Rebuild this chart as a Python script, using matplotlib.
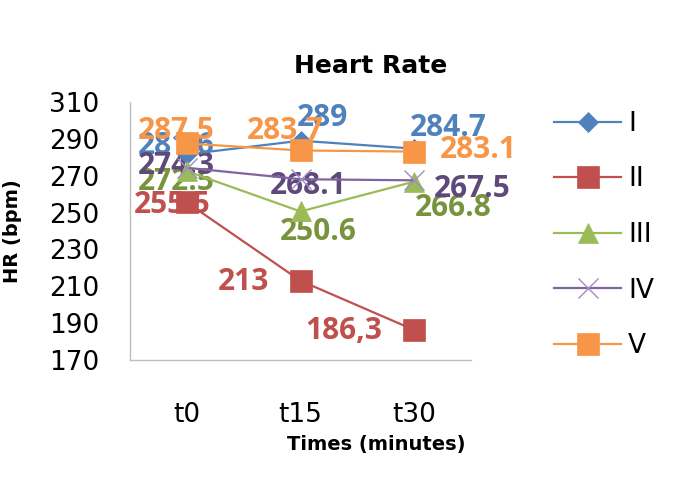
import matplotlib
matplotlib.use("Agg")
import matplotlib.pyplot as plt

# data
times = ["t0", "t15", "t30"]
groups = ["I", "II", "III", "IV", "V"]
hr_I = [281.6, 289, 284.7]
hr_II = [255.5, 213, 186.3]
hr_III = [272.5, 250.6, 266.8]
hr_IV = [274.3, 268.1, 267.5]
hr_V = [287.5, 283.7, 283.1]
# printed labels (the original shows one value with a decimal comma)
labels_I = ["281.6", "289", "284.7"]
labels_II = ["255.5", "213", "186,3"]
labels_III = ["272.5", "250.6", "266.8"]
labels_IV = ["274.3", "268.1", "267.5"]
labels_V = ["287.5", "283.7", "283.1"]
y_ticks = [170, 190, 210, 230, 250, 270, 290, 310]

# style per series: line colour, marker, marker size, marker colour, label colour
styles = [
    dict(c="#4f81bd", m="D", ms=10, mc="#4f81bd", lc="#4f81bd"),
    dict(c="#c0504d", m="s", ms=16, mc="#c0504d", lc="#c0504d"),
    dict(c="#9bbb59", m="^", ms=15, mc="#9bbb59", lc="#77933c"),
    dict(c="#8064a2", m="x", ms=15, mc="#9f8cc0", lc="#5f497a"),
    dict(c="#f79646", m="s", ms=16, mc="#f79646", lc="#f79646"),
]
# label offsets in pixels from each point
offsets = [
    [(-11, 8), (22, 23), (34, 21)],
    [(-15, -3), (-57, -1), (-70, -1)],
    [(-11, -11), (18, -21), (39, -26)],
    [(-11, 2), (8, -7), (58, -9)],
    [(-11, 12), (-15, 19), (64, 2)],
]

fig = plt.figure(figsize=(6.88, 4.78), dpi=100)
ax = fig.add_axes([130 / 688, 1 - 360 / 478, 341 / 688, 258 / 478])

x = list(range(len(times)))
all_hr = [hr_I, hr_II, hr_III, hr_IV, hr_V]
all_labels = [labels_I, labels_II, labels_III, labels_IV, labels_V]

for i, (name, vals, texts) in enumerate(zip(groups, all_hr, all_labels)):
    st = styles[i]
    ax.plot(x, vals, color=st["c"], lw=1.6, marker=st["m"], ms=st["ms"],
            mfc=st["mc"], mec=st["mc"], mew=1.0 if st["m"] == "x" else 0.5,
            label=name, zorder=3 + i)
    for j, (v, t) in enumerate(zip(vals, texts)):
        dx, dy = offsets[i][j]
        ax.annotate(t, (j, v), xytext=(dx, dy), textcoords="offset pixels",
                    ha="center", va="center", color=st["lc"], fontsize=21.5,
                    fontweight="bold", family="Open Sans", zorder=2)

ax.set_xlim(-0.5, 2.5)
ax.set_ylim(170, 310)
ax.set_xticks(x)
ax.set_xticklabels(times)
ax.set_yticks(y_ticks)
for lab in ax.get_xticklabels() + ax.get_yticklabels():
    lab.set_family("DejaVu Sans")
    lab.set_fontsize(19)
ax.tick_params(length=0)
ax.tick_params(axis="y", pad=22)
ax.tick_params(axis="x", pad=30)
for s in ["top", "right"]:
    ax.spines[s].set_visible(False)
for s in ["left", "bottom"]:
    ax.spines[s].set_color("#bfbfbf")
    ax.spines[s].set_linewidth(1.0)

ax.set_ylabel("HR (bpm)", fontsize=14, fontweight="bold", family="DejaVu Sans")
ax.yaxis.set_label_coords((22 - 130) / 341, 0.5)
fig.text(376 / 688, 1 - 450 / 478, "Times (minutes)", ha="center", va="baseline",
         fontsize=14, fontweight="bold", family="DejaVu Sans")
fig.text(371 / 688, 1 - 73 / 478, "Heart Rate", ha="center", va="baseline",
         fontsize=18, fontweight="bold", family="DejaVu Sans")

fig.legend(loc="center left", bbox_to_anchor=(554 / 688, 1 - 235 / 478),
           frameon=False, borderpad=0, borderaxespad=0, handlelength=2.54,
           handletextpad=0.27, labelspacing=1.12,
           prop={"family": "DejaVu Sans", "size": 19})

fig.savefig("out.png", dpi=100)
